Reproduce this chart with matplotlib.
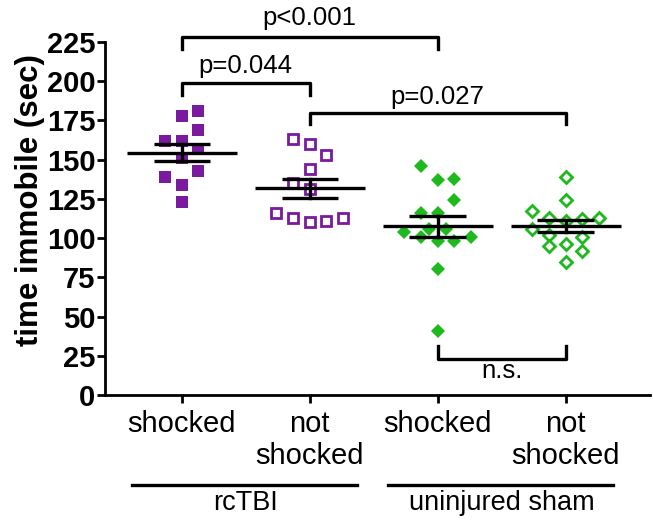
import numpy as np
import matplotlib
matplotlib.use("Agg")
import matplotlib.pyplot as plt

plt.rcParams['font.family'] = ['Liberation Sans', 'DejaVu Sans']

# ---- data ----
categories = ["shocked", "not\nshocked", "shocked", "not\nshocked"]
groups = ["rcTBI", "uninjured sham"]

tbi_shocked = [178, 181, 169, 162, 162, 157, 151, 143, 139, 134, 123]
tbi_shocked_off = [0, 1, 1, -1, 0, 1, 0, 1, -1, 0, 0]

tbi_not = [163, 160, 153, 144, 135, 131, 116, 113, 110, 111, 113]
tbi_not_off = [-1, 0, 1, 0, -1, 0, -2, -1, 0, 1, 2]

sham_shocked = [146, 137, 138, 124, 116, 116, 106, 106, 104, 101, 98, 98, 101, 80, 41]
sham_shocked_off = [-1, 0, 1, 1, -1, 0, -0.5, 0.5, -2, -1, 0, 1, 2, 0, 0]

sham_not = [139, 124, 117, 113, 111, 112, 113, 106, 102, 101, 95, 96, 92, 85]
sham_not_off = [0, 0, -2, -1, 0, 1, 2, -2, -1, 1, -1, 0, 1, 0]

series = [tbi_shocked, tbi_not, sham_shocked, sham_not]
offsets = [tbi_shocked_off, tbi_not_off, sham_shocked_off, sham_not_off]

# brackets: (group a, group b, y of bar, label, label y)
brackets = [
    (0, 2, 228, "p<0.001", 240),
    (0, 1, 199, "p=0.044", 210),
    (1, 3, 180, "p=0.027", 190),
    (2, 3, 23, "n.s.", 15),
]

yticks = [0, 25, 50, 75, 100, 125, 150, 175, 200, 225]

purple = "#7A1A9E"
green = "#1DB91D"

fig = plt.figure(figsize=(6.53, 5.2), dpi=100)
ax = fig.add_axes([0.1608, 0.2404, 0.8346, 0.6788])

step = 0.13
styles = [
    dict(marker='s', ms=8.4, mfc=purple, mec=purple, mew=0),
    dict(marker='s', ms=7.6, mfc='white', mec=purple, mew=2.0),
    dict(marker='D', ms=7.2, mfc=green, mec=green, mew=0),
    dict(marker='D', ms=6.4, mfc='white', mec=green, mew=2.0),
]

for i, (vals, offs, st) in enumerate(zip(series, offsets, styles)):
    vals = np.array(vals, float)
    xs = i + np.array(offs, float) * step
    ax.plot(xs, vals, linestyle='none', zorder=3, **st)
    m = vals.mean()
    sem = vals.std(ddof=1) / np.sqrt(len(vals))
    ax.plot([i - 0.43, i + 0.43], [m, m], color='black', lw=2.4, zorder=4, solid_capstyle='butt')
    ax.plot([i - 0.22, i + 0.22], [m + sem, m + sem], color='black', lw=2.4, zorder=4, solid_capstyle='butt')
    ax.plot([i - 0.22, i + 0.22], [m - sem, m - sem], color='black', lw=2.4, zorder=4, solid_capstyle='butt')
    ax.plot([i, i], [m - sem, m + sem], color='black', lw=2.4, zorder=4)

for a, b, y, lab, ly in brackets:
    leg = -7.5 if y > 100 else 8
    ax.plot([a, a, b, b], [y + leg, y, y, y + leg], color='black', lw=2.4,
            clip_on=False, zorder=5, solid_joinstyle='round')
    ax.text((a + b) / 2, ly, lab, ha='center', va='center', fontsize=18.5,
            clip_on=False)

ax.set_xlim(-0.6, 3.66)
ax.set_ylim(0, 225)
ax.set_yticks(yticks)
ax.set_yticklabels([str(t) for t in yticks], fontsize=21, fontweight='bold')
ax.set_xticks(range(4))
ax.set_xticklabels(categories, fontsize=21, linespacing=1.15, va='top')
ax.tick_params(axis='y', length=6, width=2, pad=1)
ax.tick_params(axis='x', length=6, width=2, pad=5)
for s in ['top', 'right']:
    ax.spines[s].set_visible(False)
for s in ['left', 'bottom']:
    ax.spines[s].set_linewidth(2)
ax.set_ylabel("time immobile (sec)", fontsize=22.5, fontweight='bold')
ax.yaxis.set_label_coords(-0.11, 0.552)

# group underlines and labels
trans = ax.get_xaxis_transform()
for gi, g in enumerate(groups):
    x0 = 2 * gi - 0.39
    x1 = 2 * gi + 1 + 0.37
    ax.plot([x0, x1], [-0.255, -0.255], color='black', lw=2.4, transform=trans, clip_on=False)
    ax.text(2 * gi + 0.5, -0.326, g, transform=trans, ha='center', va='baseline', fontsize=19.5)

fig.savefig("out.png", dpi=100)
